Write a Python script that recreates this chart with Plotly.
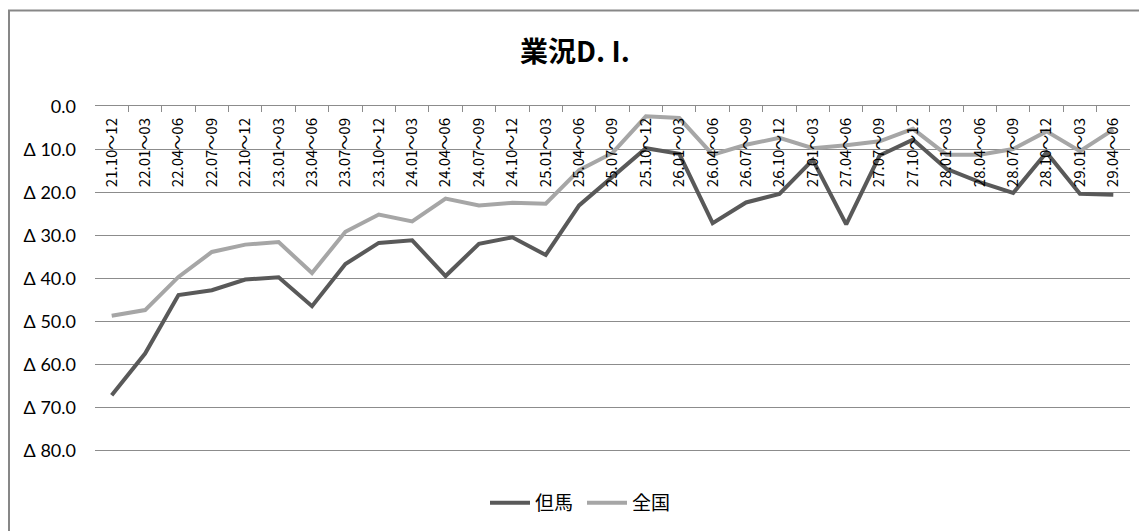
import plotly.graph_objects as go

categories = ["21.10～12", "22.01～03", "22.04～06", "22.07～09", "22.10～12",
              "23.01～03", "23.04～06", "23.07～09", "23.10～12", "24.01～03",
              "24.04～06", "24.07～09", "24.10～12", "25.01～03", "25.04～06",
              "25.07～09", "25.10～12", "26.01～03", "26.04～06", "26.07～09",
              "26.10～12", "27.01～03", "27.04～06", "27.07～09", "27.10～12",
              "28.01～03", "28.04～06", "28.07～09", "28.10～12", "29.01～03",
              "29.04～06"]

tajima = [-67.1, -57.4, -43.8, -42.7, -40.2, -39.7, -46.4, -36.6, -31.7, -31.1,
          -39.4, -31.9, -30.4, -34.5, -23.0, -16.5, -9.7, -11.0, -27.1, -22.3,
          -20.3, -12.4, -27.4, -11.4, -7.7, -14.5, -17.6, -20.1, -10.7, -20.3,
          -20.5]

zenkoku = [-48.6, -47.3, -39.6, -33.8, -32.1, -31.5, -38.7, -29.1, -25.1, -26.7,
           -21.4, -23.0, -22.4, -22.6, -14.8, -10.8, -2.3, -2.7, -11.2, -8.9,
           -7.3, -9.7, -9.0, -8.1, -5.2, -11.2, -11.2, -9.9, -5.8, -10.4,
           -5.4]

y_tickvals = [0, -10, -20, -30, -40, -50, -60, -70, -80]
y_ticktext = ["0.0", "Δ 10.0", "Δ 20.0", "Δ 30.0", "Δ 40.0", "Δ 50.0",
              "Δ 60.0", "Δ 70.0", "Δ 80.0"]

fig = go.Figure()
fig.add_trace(go.Scatter(x=categories, y=tajima, mode="lines", name="但馬",
                         line=dict(color="#595959", width=4)))
fig.add_trace(go.Scatter(x=categories, y=zenkoku, mode="lines", name="全国",
                         line=dict(color="#a6a6a6", width=4)))
# invisible trace carrying the category labels axis
fig.add_trace(go.Scatter(x=categories, y=zenkoku, mode="lines", xaxis="x2",
                         line=dict(width=0, color="rgba(0,0,0,0)"),
                         showlegend=False, hoverinfo="skip"))

n = len(categories)
PB = 453.0   # pixel y of plot bottom
PH = 347.0   # plot height in px
PL = 95.0
PW = 1035.0

fig.update_layout(
    width=1139, height=531,
    margin=dict(l=95, r=9, t=106, b=78),
    paper_bgcolor="white", plot_bgcolor="white",
    title=dict(text="<b>業況D. I.</b>", x=575 / 1139, xanchor="center",
               y=1 - 52 / 531, yanchor="middle",
               font=dict(family="Noto Sans CJK JP", size=28, color="black")),
    legend=dict(orientation="h", x=(582 - PL) / PW, xanchor="center",
                y=(PB - 503) / PH, yanchor="middle",
                font=dict(family="Noto Sans CJK JP", size=19, color="black"),
                itemwidth=40, entrywidth=42, entrywidthmode="pixels"),
    showlegend=True,
    xaxis=dict(type="category", side="top", showgrid=False,
               showline=True, linecolor="#8c8c8c", linewidth=1,
               ticks="inside", ticklen=6, tickcolor="#8c8c8c",
               tickson="boundaries", showticklabels=False,
               range=[-0.5, n - 0.5], fixedrange=True),
    xaxis2=dict(type="category", overlaying="x", anchor="free",
                position=(PB - 114) / PH, side="bottom",
                showgrid=False, showline=False, ticks="", tickangle=-90,
                tickfont=dict(family="Noto Sans CJK JP", size=15, color="black"),
                range=[-0.5, n - 0.5], fixedrange=True),
    yaxis=dict(range=[-80.5, 0.1], tickvals=y_tickvals, ticktext=y_ticktext,
               showgrid=True, gridcolor="#8c8c8c", gridwidth=1,
               zeroline=False, showline=False, ticks="",
               ticklabelstandoff=18,
               tickfont=dict(family="Lato", size=18, color="black"),
               fixedrange=True),
    shapes=[dict(type="rect", xref="paper", yref="paper",
                 x0=(9 - PL) / PW, x1=1.2, y0=-0.5, y1=(PB - 10.5) / PH,
                 line=dict(color="#878787", width=2), fillcolor="rgba(0,0,0,0)",
                 layer="below")],
)

fig.write_html("out.html")
